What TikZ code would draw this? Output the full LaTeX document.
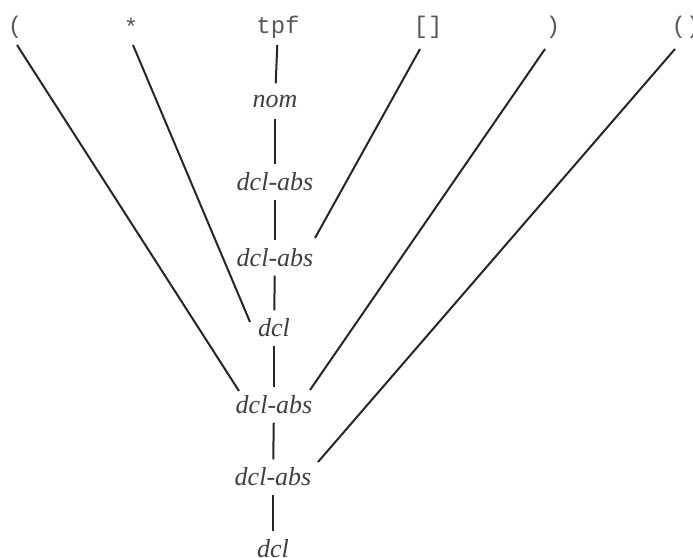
\documentclass[tikz,border=0pt]{standalone}
\usepackage{fontspec}
\setmainfont{Liberation Serif}
\setmonofont{Liberation Mono}
\begin{document}
\begin{tikzpicture}[x=1pt,y=-1pt,
  lab/.style={font=\fontsize{26}{26}\selectfont\itshape, text=black!75, inner sep=0pt, minimum height=35pt},
  tok/.style={font=\fontsize{24}{24}\ttfamily, text=black!65, inner sep=0pt, minimum height=36pt},
  ln/.style={draw=black!85, line width=2pt}]
\useasboundingbox (0,0) rectangle (693,557);
% top tokens
\node[tok] (t1) at (15,27) {(};
\node[tok] (t2) at (131,27) {*};
\node[tok] (t3) at (278,27) {tpf};
\node[tok] (t4) at (428,27) {[]};
\node[tok] (t5) at (553,27) {)};
\node[tok] (t6) at (686,27) {()};
% spine
\node[lab] (n1) at (275,101) {nom};
\node[lab] (n2) at (275,182) {dcl-abs};
\node[lab] (n3) at (275,258) {dcl-abs};
\node[lab] (n4) at (274,328) {dcl};
\node[lab] (n5) at (274,405) {dcl-abs};
\node[lab] (n6) at (273,477) {dcl-abs};
\node[lab] (n7) at (273,549) {dcl};
\draw[ln] (t3) -- (n1);
\draw[ln] (n1) -- (n2);
\draw[ln] (n2) -- (n3);
\draw[ln] (n3) -- (n4);
\draw[ln] (n4) -- (n5);
\draw[ln] (n5) -- (n6);
\draw[ln] (n6) -- (n7);
% slanted connectors
\coordinate (e1) at (239,391);
\coordinate (e2) at (250,322);
\coordinate (e4) at (315,238);
\coordinate (e5) at (310,390);
\coordinate (e6) at (318,462);
\coordinate (s1) at (17,45);
\coordinate (s2) at (133,45);
\coordinate (s4) at (420,49);
\coordinate (s5) at (545,49);
\coordinate (s6) at (675,49);
\draw[ln] (s1) -- (e1);
\draw[ln] (s2) -- (e2);
\draw[ln] (s4) -- (e4);
\draw[ln] (s5) -- (e5);
\draw[ln] (s6) -- (e6);
\end{tikzpicture}
\end{document}
